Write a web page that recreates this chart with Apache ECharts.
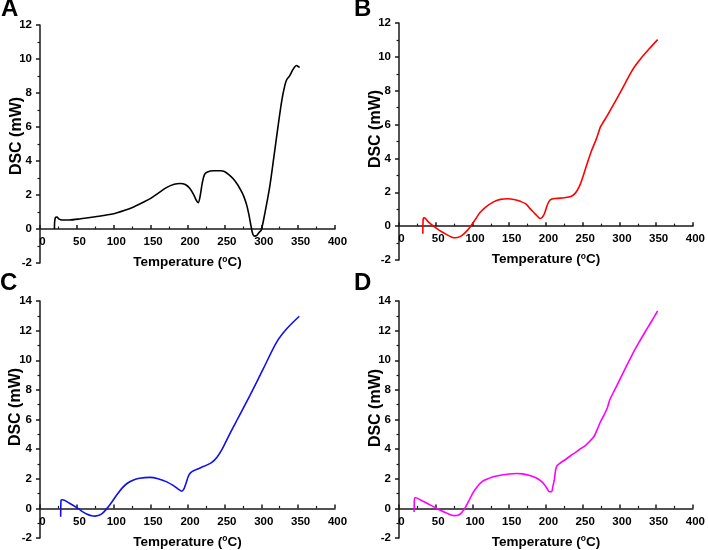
<!DOCTYPE html>
<html><head><meta charset="utf-8">
<script src="https://cdn.jsdelivr.net/npm/echarts@6/dist/echarts.min.js"></script>
<style>html,body{margin:0;padding:0;background:#fff}#c{width:708px;height:550px}</style>
</head><body><div id="c"></div>
<script>
const panelLetters = ['A', 'B', 'C', 'D'];
const xTitle = 'Temperature ({s|o}C)';
const yTitle = 'DSC (mW)';
const yMin = -2;
const yMaxes = [12, 12, 14, 14];
const colors = ['#000000', '#ff0000', '#1010ee', '#ff00ff'];

const tempA = [19.6, 19.8, 21, 23, 26, 30, 40, 55, 75, 100, 115, 127, 140, 150, 160, 172, 182, 190, 197, 203, 208, 212, 214.5, 217, 220, 223, 227, 235, 245, 250, 256, 262, 268, 272, 276, 280, 283, 286, 288.5, 291, 294, 297, 300, 305, 311.5, 317, 322.7, 328, 332, 334.5, 338, 342, 345, 348, 350, 352];
const dscA  = [0, 0.4, 0.68, 0.7, 0.58, 0.53, 0.53, 0.6, 0.72, 0.9, 1.1, 1.3, 1.57, 1.8, 2.1, 2.45, 2.63, 2.68, 2.62, 2.4, 2.05, 1.68, 1.55, 1.9, 2.7, 3.2, 3.35, 3.43, 3.43, 3.38, 3.2, 2.95, 2.6, 2.3, 1.95, 1.45, 0.9, 0.2, -0.3, -0.42, -0.38, -0.2, -0.06, 0.95, 2.49, 4.2, 6.02, 7.6, 8.45, 8.78, 8.98, 9.3, 9.52, 9.62, 9.56, 9.5];

const tempB = [32.4, 32.6, 33, 34.7, 40, 47, 55, 65, 72, 77, 83, 88, 93, 97, 104, 110, 118, 128, 138, 148, 158, 166, 173, 178, 184, 188, 192, 195, 198, 201, 204, 208, 215, 225, 234, 240, 245, 249, 255, 262, 269, 274, 276, 285, 298, 308, 316, 322, 330, 340, 352];
const dscB  = [-0.45, 0.1, 0.45, 0.49, 0.25, 0, -0.25, -0.5, -0.65, -0.69, -0.62, -0.47, -0.25, -0.04, 0.4, 0.79, 1.12, 1.42, 1.58, 1.62, 1.56, 1.45, 1.3, 1.05, 0.78, 0.6, 0.45, 0.52, 0.75, 1.15, 1.45, 1.6, 1.64, 1.68, 1.75, 1.95, 2.3, 2.75, 3.55, 4.45, 5.2, 5.85, 6.0, 6.65, 7.65, 8.45, 9.1, 9.5, 9.95, 10.45, 11.02];

const tempC = [28, 28.2, 28.6, 30.3, 40, 50, 57, 64, 70, 75, 80, 85, 90, 97, 104, 111, 118, 126, 135, 149, 160, 172, 182, 188, 192, 195, 198, 201, 204, 210, 218, 226, 233, 240, 247, 257, 267.5, 284.7, 302.8, 320.9, 334.5, 351.6];
const dscC  = [-0.56, 0.1, 0.56, 0.58, 0.35, 0.05, -0.2, -0.4, -0.5, -0.52, -0.47, -0.32, -0.05, 0.4, 0.9, 1.35, 1.68, 1.9, 2.03, 2.09, 2.0, 1.79, 1.5, 1.28, 1.16, 1.3, 1.7, 2.15, 2.4, 2.58, 2.75, 2.92, 3.1, 3.45, 4.0, 5.0, 6.0, 7.63, 9.43, 11.22, 12.12, 12.97];

const tempD = [20.5, 20.7, 21.2, 22.8, 30, 40, 50, 57, 65, 72, 76, 80, 84, 89.6, 95, 100.8, 107, 114, 121, 128, 140, 150, 160, 168, 178, 187, 193, 198, 202, 204.6, 207.5, 209.5, 211.5, 213, 215, 220, 228, 236, 245, 254, 260, 265.5, 270, 274.5, 279, 283.5, 286, 288, 293, 299.3, 308, 317.3, 326, 335.3, 344, 352];
const dscD  = [-0.25, 0.2, 0.72, 0.72, 0.55, 0.3, 0.03, -0.15, -0.32, -0.46, -0.49, -0.46, -0.35, 0, 0.5, 1.06, 1.5, 1.84, 2.0, 2.13, 2.25, 2.32, 2.35, 2.33, 2.22, 2.05, 1.85, 1.6, 1.3, 1.12, 1.12, 1.5, 1.95, 2.55, 2.88, 3.08, 3.35, 3.64, 3.95, 4.26, 4.55, 4.87, 5.35, 5.88, 6.3, 6.78, 7.2, 7.45, 7.95, 8.57, 9.45, 10.37, 11.15, 11.94, 12.65, 13.33];

const temps = [tempA, tempB, tempC, tempD];
const dscs = [dscA, dscB, dscC, dscD];

const FONT = "'Liberation Sans', Arial, sans-serif";
const grids = [
  {left: 40, top: 25, width: 295, height: 238},
  {left: 399, top: 23, width: 296, height: 237},
  {left: 40, top: 301, width: 295, height: 237},
  {left: 399, top: 301, width: 296, height: 237}
];
const letterPos = [[1, -3], [354, -3], [0, 271], [354, 271]];
const yTitlePos = [[17, 136], [376, 129], [16, 407], [376, 408]];

const axisCol = '#1a1a1a';
const xAxes = [], yAxes = [], series = [], graphics = [];
for (let i = 0; i < 4; i++) {
  // the x axis crosses the y axis at zero: shift it up from the grid bottom by the zero position
  const zeroOffset = -grids[i].height * (0 - yMin) / (yMaxes[i] - yMin);
  xAxes.push({
    gridIndex: i, type: 'value', min: 0, max: 400, interval: 50,
    position: 'bottom', offset: zeroOffset,
    name: xTitle, nameLocation: 'middle', nameGap: 26, nameMoveOverlap: false,
    nameTextStyle: {fontFamily: FONT, fontWeight: 'bold', fontSize: 13.5, color: '#000',
      rich: {s: {fontFamily: FONT, fontWeight: 'bold', fontSize: 8.5, color: '#000', padding: [0, 0, 6, 0]}}},
    axisLine: {show: true, onZero: false, lineStyle: {color: axisCol, width: 1.5}},
    axisTick: {show: true, inside: true, length: 4, lineStyle: {color: axisCol, width: 1.5}},
    minorTick: {show: true, splitNumber: 2, length: 2.5, lineStyle: {color: axisCol, width: 1.2}},
    axisLabel: {fontFamily: FONT, fontWeight: 'bold', fontSize: 11.5, color: '#000', margin: 7,
      showMinLabel: true, showMaxLabel: true, hideOverlap: false, padding: [0, 0, 0, 5]},
    splitLine: {show: false}
  });
  yAxes.push({
    gridIndex: i, type: 'value', min: yMin, max: yMaxes[i], interval: 2,
    axisLine: {show: true, onZero: false, lineStyle: {color: axisCol, width: 1.5}},
    axisTick: {show: true, inside: false, length: 4, lineStyle: {color: axisCol, width: 1.5}},
    minorTick: {show: true, splitNumber: 2, length: 2.5, lineStyle: {color: axisCol, width: 1.2}},
    axisLabel: {fontFamily: FONT, fontWeight: 'bold', fontSize: 11.5, color: '#000', margin: 8},
    splitLine: {show: false}
  });
  series.push({
    type: 'line', xAxisIndex: i, yAxisIndex: i,
    data: temps[i].map((t, k) => [t, dscs[i][k]]),
    showSymbol: false, smooth: 0.3,
    lineStyle: {color: colors[i], width: 1.6},
    z: 3
  });
  graphics.push({
    type: 'text', left: letterPos[i][0], top: letterPos[i][1],
    style: {text: panelLetters[i], fontFamily: FONT, fontWeight: 'bold', fontSize: 24, fill: '#000'}
  });
  graphics.push({
    type: 'text', x: yTitlePos[i][0], y: yTitlePos[i][1], rotation: Math.PI / 2,
    style: {text: yTitle, fontFamily: FONT, fontWeight: 'bold', fontSize: 16, fill: '#000',
      align: 'center', verticalAlign: 'middle'}
  });
}

const chart = echarts.init(document.getElementById('c'), null, {renderer: 'canvas'});
chart.setOption({
  animation: false,
  backgroundColor: '#fff',
  grid: grids,
  xAxis: xAxes,
  yAxis: yAxes,
  series: series,
  graphic: graphics
});
</script></body></html>
